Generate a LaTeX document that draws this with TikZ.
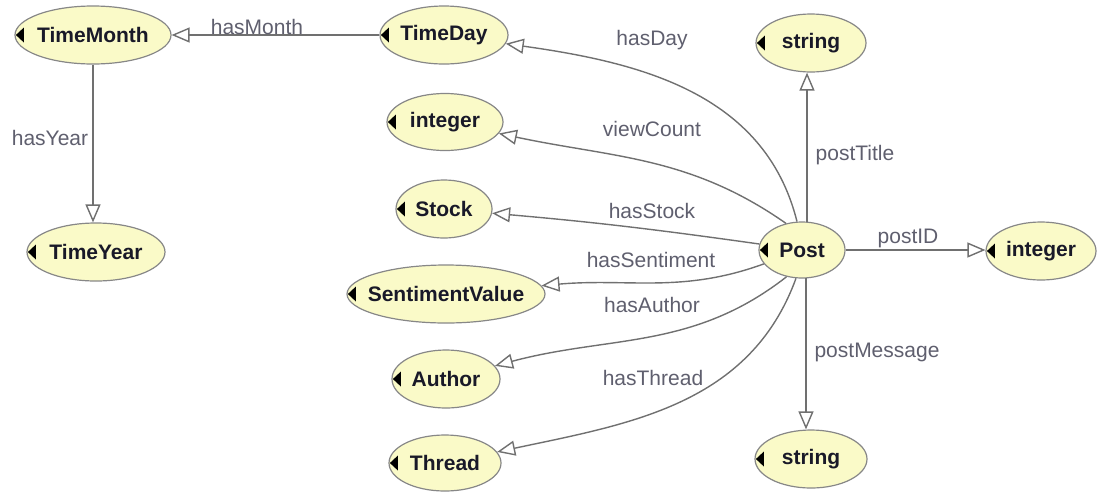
\documentclass[tikz,border=0pt]{standalone}
\usepackage{fontspec}
\setmainfont{Liberation Sans}
\usetikzlibrary{shapes.geometric,arrows.meta}
\definecolor{classfill}{RGB}{250,250,200}
\definecolor{classline}{RGB}{135,135,135}
\definecolor{edgegray}{RGB}{112,112,112}
\definecolor{labelgray}{RGB}{95,95,110}
\definecolor{classtext}{RGB}{25,25,40}
\newcommand\clsname[1]{\makebox[0pt]{#1}}
\tikzset{
  cls/.style={ellipse, draw=classline, line width=1.2pt, fill=classfill,
    inner sep=0pt, text=classtext, font=\bfseries\fontsize{21}{25}\selectfont},
  rel/.style={draw=edgegray, line width=1.4pt,
    -{Triangle[length=18pt, width=15pt, fill=white]}},
  lbl/.style={text=labelgray, inner sep=0pt, font=\fontsize{21}{25}\selectfont},
  marker/.style={fill=black}
}
\begin{document}
\begin{tikzpicture}[x=1pt, y=-1pt]
\useasboundingbox (0,0) rectangle (1097,491);

% classes
\node[cls, minimum width=156, minimum height=58] (tm)     at (93,35)   {\clsname{TimeMonth}};
\node[cls, minimum width=138, minimum height=58] (ty)     at (96,252)  {\clsname{TimeYear}};
\node[cls, minimum width=128, minimum height=58] (td)     at (444,35)  {\clsname{TimeDay}};
\node[cls, minimum width=116, minimum height=57] (intL)   at (445,122) {\clsname{integer}};
\node[cls, minimum width=96,  minimum height=58] (stock)  at (444,209) {\clsname{Stock}};
\node[cls, minimum width=198, minimum height=58] (sent)   at (446,294) {\clsname{SentimentValue}};
\node[cls, minimum width=108, minimum height=58] (author) at (446,379) {\clsname{Author}};
\node[cls, minimum width=112, minimum height=56] (thread) at (445,463) {\clsname{Thread}};
\node[cls, minimum width=86,  minimum height=56] (post)   at (802,250) {\clsname{Post}};
\node[cls, minimum width=110, minimum height=58] (intR)   at (1041,251) {\clsname{integer}};
\node[cls, minimum width=110, minimum height=58] (strT)   at (811,43)  {\clsname{string}};
\node[cls, minimum width=112, minimum height=58] (strB)   at (811,459) {\clsname{string}};

% small black markers on the left of every class
\foreach \n in {tm,ty,td,intL,stock,sent,author,thread,post,intR,strT,strB}
  \fill[marker] ([xshift=1.5]\n.west) -- ++(8,-7.5) -- ++(0,15) -- cycle;

% properties
\draw[rel] (td) -- (tm);
\draw[rel] (tm.south) -- (tm.south |- ty.north);
\draw[rel] (post.100) to[out=104, in=-8] (td);
\draw[rel] (post.121) to[out=145, in=-12] (intL);
\draw[rel] (post) to[out=172, in=-5] (stock);
\draw[rel] (post) to[out=200, in=5] (sent);
\draw[rel] (post.240) to[out=218, in=15] (author);
\draw[rel] (post.258) to[out=250, in=12] (thread);
\draw[rel] (post.80) -- (post.80 |- strT.south);
\draw[rel] (post.-82) -- (post.-82 |- strB.north);
\draw[rel] (post.east) -- (post.east -| intR.west);

% property labels
\node[lbl] (lmonth)   at (257,27)  {hasMonth};
\node[lbl] (lyear)    at (50,138)  {hasYear};
\node[lbl] (lday)     at (652,40)  {hasDay};
\node[lbl] (lview)    at (652,129) {viewCount};
\node[lbl] (lstock)   at (652,211) {hasStock};
\node[lbl] (lsent)    at (651,260) {hasSentiment};
\node[lbl] (lauthor)  at (652,305) {hasAuthor};
\node[lbl] (lthread)  at (653,378) {hasThread};
\node[lbl] (ltitle)   at (855,155) {postTitle};
\node[lbl] (lid)      at (908,238) {postID};
\node[lbl] (lmessage) at (877,352) {postMessage};
\end{tikzpicture}
\end{document}
